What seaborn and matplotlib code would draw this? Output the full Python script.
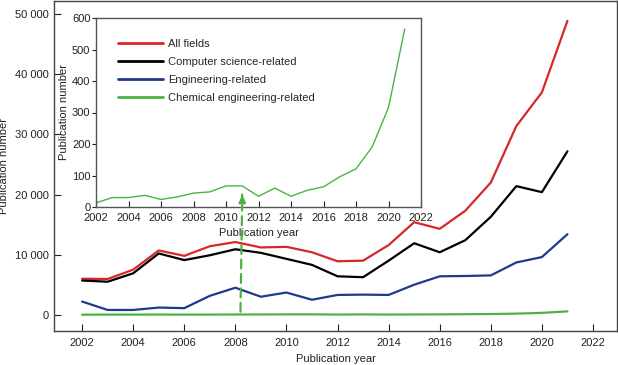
import matplotlib
matplotlib.use("Agg")
import matplotlib.pyplot as plt
import seaborn as sns
import pandas as pd
import numpy as np

years = list(range(2002, 2022))
all_fields = [6000, 5950, 7500, 10700, 9800, 11400, 12100, 11200, 11300, 10400,
              8900, 9000, 11600, 15400, 14300, 17300, 22000, 31400, 37000, 48900]
computer_science = [5700, 5500, 6900, 10200, 9100, 9900, 10900, 10300, 9300, 8300,
                    6400, 6250, 9000, 11900, 10400, 12400, 16300, 21400, 20400, 27200]
engineering = [2200, 800, 800, 1200, 1100, 3150, 4500, 3000, 3700, 2500,
               3300, 3350, 3300, 5000, 6400, 6450, 6550, 8700, 9600, 13400]
chemical = [13, 30, 30, 37, 24, 32, 44, 48, 67, 67,
            34, 60, 34, 53, 64, 96, 121, 191, 316, 565]

labels = ["All fields", "Computer science-related", "Engineering-related",
          "Chemical engineering-related"]
colors = ["#d8262a", "#000000", "#1d3a8c", "#4cb342"]

main_xticks = list(range(2002, 2023, 2))
main_yticks = [0, 10000, 20000, 30000, 40000, 50000]
inset_xticks = list(range(2002, 2023, 2))
inset_yticks = [0, 100, 200, 300, 400, 500, 600]

df = pd.DataFrame({
    "year": years * 4,
    "value": all_fields + computer_science + engineering + chemical,
    "field": sum([[l] * len(years) for l in labels], []),
})
df_chem = pd.DataFrame({"year": years, "value": chemical})

sns.set_style("white")
plt.rcParams["font.family"] = ["Liberation Sans", "DejaVu Sans"]

fig = plt.figure(figsize=(6.18, 3.65), dpi=100)
ax = fig.add_axes([54 / 618, 1 - 331 / 365, 563 / 618, 330 / 365])

sns.lineplot(data=df, x="year", y="value", hue="field", hue_order=labels,
             palette=colors, linewidth=1.6, ax=ax, legend=False)
ax.set_xlim(2000.9, 2022.94)
ax.set_ylim(-2700, 52200)
ax.set_xticks(main_xticks)
ax.set_yticks(main_yticks)
ax.set_yticklabels([f"{v:,}".replace(",", " ") for v in main_yticks])
ax.tick_params(axis="both", direction="in", length=5, width=0.8, labelsize=8,
               colors="#222222", bottom=True, left=True)
ax.tick_params(axis="x", pad=5)
ax.tick_params(axis="y", pad=4)
for s in ax.spines.values():
    s.set_color("#444444")
    s.set_linewidth(1.0)
ax.set_xlabel("Publication year", fontsize=8, color="#222222", labelpad=4.5)
ax.set_ylabel("Publication number", fontsize=8, color="#222222", labelpad=4)

# inset
axi = fig.add_axes([96 / 618, 1 - 207 / 365, 325 / 618, 189 / 365])
sns.lineplot(data=df_chem, x="year", y="value", color=colors[3], linewidth=1.0, ax=axi)
axi.set_xlim(2002, 2022)
axi.set_ylim(0, 600)
axi.set_xticks(inset_xticks)
axi.set_yticks(inset_yticks)
axi.tick_params(axis="x", direction="in", length=4, width=0.8, labelsize=8,
                colors="#222222", bottom=True, pad=4)
axi.tick_params(axis="y", direction="out", length=3, width=0.8, labelsize=8,
                colors="#222222", left=True, pad=1)
for s in axi.spines.values():
    s.set_color("#555555")
    s.set_linewidth(1.0)
axi.set_xlabel("Publication year", fontsize=8, color="#222222", labelpad=4)
axi.set_ylabel("Publication number", fontsize=8, color="#222222", labelpad=2)

handles = [plt.Line2D([], [], color=c, linewidth=2.0) for c in colors]
axi.legend(handles, labels, loc="upper left", bbox_to_anchor=(0.068, 0.888),
           frameon=False, fontsize=8, handlelength=4.0, handletextpad=0.5,
           labelspacing=0.72, borderpad=0, borderaxespad=0)

# dashed green arrow from main curve to inset
axi.annotate("", xy=(2011, 40), xycoords=axi.transData,
             xytext=(2008.2, 500), textcoords=ax.transData,
             arrowprops=dict(arrowstyle="-", linestyle=(0, (4, 2.5)),
                             color=colors[3], linewidth=1.6,
                             shrinkA=0, shrinkB=0),
             annotation_clip=False)
axi.annotate("", xy=(2011, 40), xycoords=axi.transData,
             xytext=(2011, 10), textcoords=axi.transData,
             arrowprops=dict(arrowstyle="-|>,head_length=0.5,head_width=0.22",
                             color=colors[3], linewidth=1.2,
                             shrinkA=0, shrinkB=0),
             annotation_clip=False)

fig.savefig("out.png", dpi=100)
